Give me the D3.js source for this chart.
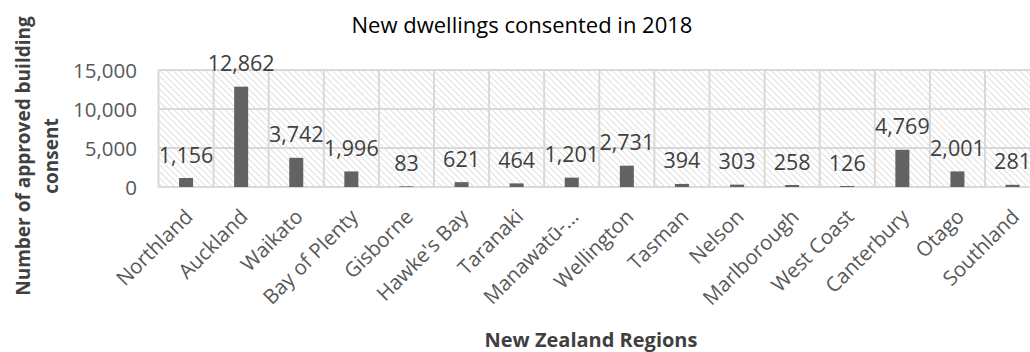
<!DOCTYPE html>
<html><head><meta charset="utf-8">
<script src="https://cdn.jsdelivr.net/npm/d3@7"></script>
<style>body{margin:0;background:#fff;} svg{display:block;font-family:"Open Sans",sans-serif;}</style>
</head><body>
<script>
const categories = ["Northland","Auckland","Waikato","Bay of Plenty","Gisborne","Hawke's Bay","Taranaki","Manawatū-...","Wellington","Tasman","Nelson","Marlborough","West Coast","Canterbury","Otago","Southland"];
const values = [1156,12862,3742,1996,83,621,464,1201,2731,394,303,258,126,4769,2001,281];
const yTicks = [0,5000,10000,15000];
const title = "New dwellings consented in 2018";
const xTitle = "New Zealand Regions";
const yTitleLines = ["Number of approved building","consent"];

const W = 1030, H = 352;
const plot = {left:158.5, top:70, bottom:187};
const band = 55.1;
const svg = d3.select("body").append("svg").attr("width",W).attr("height",H);

const x = d3.scaleBand().domain(categories).range([plot.left, plot.left + band*categories.length]).paddingInner(0).paddingOuter(0);
const y = d3.scaleLinear().domain([0,15000]).range([plot.bottom, plot.top]);

const defs = svg.append("defs");
const pat = defs.append("pattern").attr("id","hatch").attr("patternUnits","userSpaceOnUse")
  .attr("width",4.5).attr("height",4.5).attr("patternTransform","rotate(-45)");
pat.append("rect").attr("width",4.5).attr("height",4.5).attr("fill","#fff");
pat.append("line").attr("x1",0).attr("y1",0).attr("x2",0).attr("y2",4.5).attr("stroke","#d6d6d6").attr("stroke-width",1.5);

const x0 = x.range()[0], x1 = x.range()[1];
svg.append("rect").attr("x",x0).attr("y",plot.top).attr("width",x1-x0).attr("height",plot.bottom-plot.top).attr("fill","url(#hatch)");

// horizontal gridlines
svg.append("g").selectAll("line").data(yTicks).join("line")
  .attr("x1",x0).attr("x2",x1).attr("y1",d=>y(d)).attr("y2",d=>y(d))
  .attr("stroke","#d9d9d9").attr("stroke-width",2);
// vertical gridlines
svg.append("g").selectAll("line").data(categories.concat(["__end"])).join("line")
  .attr("x1",(d,i)=> i<categories.length ? x(d) : x1).attr("x2",(d,i)=> i<categories.length ? x(d) : x1)
  .attr("y1",plot.top).attr("y2",plot.bottom)
  .attr("stroke","#d9d9d9").attr("stroke-width",2);

// y axis
const yAxis = d3.axisLeft(y).tickValues(yTicks).tickSize(0).tickPadding(0).tickFormat(d3.format(","));
const gy = svg.append("g").attr("transform",`translate(137,0)`).call(yAxis);
gy.select(".domain").remove();
gy.selectAll("text").attr("fill","#595959").attr("font-size",20.5).attr("font-family","Open Sans").attr("dy","0.35em");

// bars
const bw = 14;
svg.append("g").selectAll("rect").data(values).join("rect")
  .attr("x",(d,i)=> x(categories[i]) + x.bandwidth()/2 - bw/2)
  .attr("width",bw)
  .attr("y",d=>y(d)).attr("height",d=>plot.bottom - y(d))
  .attr("fill","#626262");

// data labels
svg.append("g").selectAll("text").data(values).join("text")
  .attr("x",(d,i)=> x(categories[i]) + x.bandwidth()/2)
  .attr("y",d=>y(d) - 23)
  .attr("dy","0.35em")
  .attr("text-anchor","middle").attr("fill","#404040").attr("font-size",21.5)
  .text(d=>d3.format(",")(d));

// x axis labels
const xAxis = d3.axisBottom(x).tickSize(0).tickPadding(0);
const gx = svg.append("g").attr("transform",`translate(0,${plot.bottom})`).call(xAxis);
gx.select(".domain").remove();
gx.selectAll("text")
  .attr("font-size",20.5).attr("font-family","Open Sans").attr("fill","#595959")
  .attr("text-anchor","end").attr("dy",null).attr("y",0)
  .attr("transform","translate(8,31) rotate(-45)");

// titles
svg.append("text").attr("x",522).attr("y",25).attr("dy","0.35em").attr("text-anchor","middle")
  .attr("font-size",22).attr("fill","#000").text(title);
svg.append("text").attr("x",591).attr("y",340).attr("dy","0.35em").attr("text-anchor","middle")
  .attr("font-size",20).attr("font-weight","bold").attr("fill","#404040").text(xTitle);
const yt = svg.append("text").attr("transform","translate(23,156) rotate(-90)").attr("text-anchor","middle")
  .attr("font-size",19).attr("font-weight","bold").attr("fill","#404040");
yt.selectAll("tspan").data(yTitleLines).join("tspan").attr("x",0).attr("dy",(d,i)=> i===0 ? "0.35em" : "1.5em").text(d=>d);
</script>
</body></html>
